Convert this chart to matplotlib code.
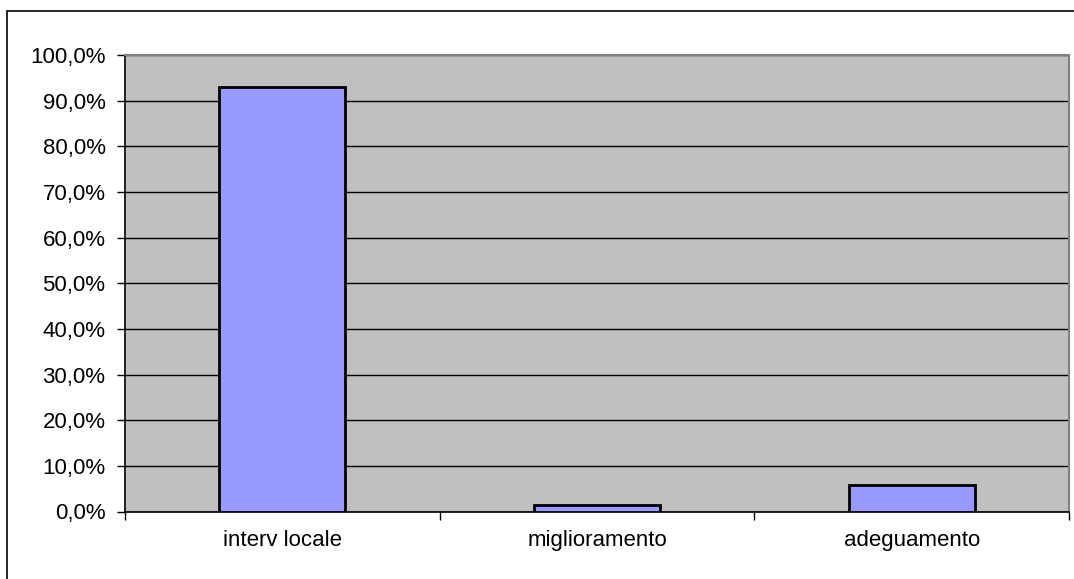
import matplotlib
matplotlib.use("Agg")
import matplotlib.pyplot as plt
from matplotlib.patches import Rectangle
from matplotlib.ticker import FuncFormatter, FixedLocator

categories = ["interv locale", "miglioramento", "adeguamento"]
values = [92.9, 1.4, 5.7]
yticks = [0, 10, 20, 30, 40, 50, 60, 70, 80, 90, 100]

plt.rcParams['font.family'] = ['Liberation Sans', 'DejaVu Sans']

W, H = 1074, 579
fig = plt.figure(figsize=(W / 100, H / 100), dpi=100)
fig.patch.set_facecolor("white")

# outer chart border (extends past right/bottom of image)
fig.patches.append(Rectangle((7 / W, -0.1), 1.2, 1 - 11 / H + 0.1,
                             transform=fig.transFigure, fill=False,
                             edgecolor="black", linewidth=1.2))

left, right, top, bottom = 125, 1069, 55, 511.5
ax = fig.add_axes([left / W, (H - bottom) / H, (right - left) / W, (bottom - top) / H])
ax.set_facecolor("#C0C0C0")

x = list(range(len(categories)))
ax.bar(x, values, width=0.4, color="#9999FF", edgecolor="black", linewidth=2, zorder=3)

ax.set_xlim(-0.5, len(categories) - 0.5)
ax.set_ylim(0, 100)
ax.yaxis.set_major_locator(FixedLocator(yticks))
ax.yaxis.set_major_formatter(FuncFormatter(lambda v, p: f"{v:.1f}%".replace(".", ",")))
ax.grid(axis="y", color="black", linewidth=1, zorder=1)
ax.set_axisbelow(True)

ax.set_xticks(x)
ax.set_xticklabels(categories)
ax.xaxis.set_minor_locator(FixedLocator([i - 0.5 for i in range(len(categories) + 1)]))
ax.tick_params(axis="x", which="major", length=0, pad=13, labelsize=16)
ax.tick_params(axis="x", which="minor", length=6, width=1, color="black")
ax.tick_params(axis="y", length=6, width=1, color="black", pad=8, labelsize=16)

for s in ["top", "right"]:
    ax.spines[s].set_color("#808080")
    ax.spines[s].set_linewidth(1.5)
for s in ["left", "bottom"]:
    ax.spines[s].set_color("black")
    ax.spines[s].set_linewidth(1.2)

fig.savefig("out.png", dpi=100, facecolor="white")
